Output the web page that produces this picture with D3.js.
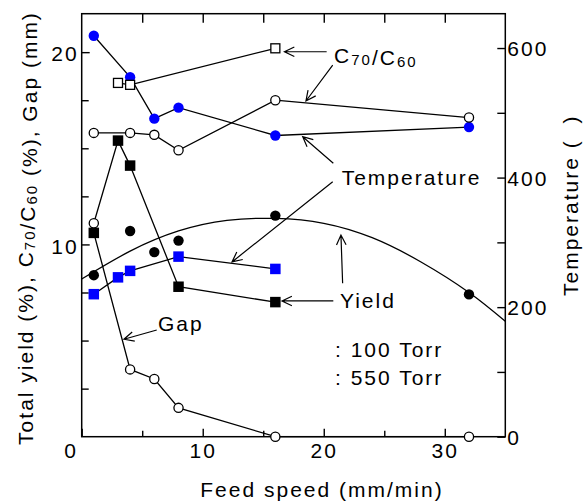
<!DOCTYPE html>
<html>
<head>
<meta charset="utf-8">
<script src="https://cdn.jsdelivr.net/npm/d3@7"></script>
<style>
body { margin: 0; background: #fff; }
svg text { font-family: "Liberation Sans", Arial, sans-serif; font-size: 21px; letter-spacing: 2px; fill: #000; }
</style>
</head>
<body>
<svg id="chart" width="585" height="501"></svg>
<script>
// feed speeds (mm/min)
const feed100 = [1, 4, 6, 8, 16, 32]
const feed550 = [1, 3, 4, 8, 16]
const feedRatio550 = [3, 4, 16]
// left axis values
const yield100 = [8.4, 10.7, 9.6, 10.2, 11.5, 7.4]
const yield550 = [10.6, 15.4, 14.1, 7.8, 7.0]
const ratio100 = [15.8, 15.8, 15.7, 14.9, 17.5, 16.6]
const ratio550 = [18.4, 18.3, 20.2]
const gap100 = [11.1, 3.5, 3.0, 1.5, 0, 0]
// right axis values (temperature)
const temp100 = [619, 555, 491, 508, 465, 478]
const temp550 = [220, 246, 256, 278, 259]
// hand drawn fit through the yield points
const fitFeed = [0, 4, 8, 12, 16, 20, 24, 28, 32, 35]
const fitYield = [8.2, 9.65, 10.7, 11.25, 11.35, 11.1, 10.35, 9.1, 7.5, 6.0]
// ticks
const xMajor = [0, 10, 20, 30]
const xMinor = [5, 15, 25]
const leftMajor = [10, 20]
const leftMinor = [2.5, 5, 7.5, 12.5, 15, 17.5]
const rightMajor = [0, 200, 400, 600]
const rightMinor = [100, 300, 500]

const svg = d3.select('#chart')
const x = d3.scaleLinear().domain([0, 35]).range([81.7, 505.3])
const yL = d3.scaleLinear().domain([0, 22]).range([436.7, 13.7])
const yR = d3.scaleLinear().domain([0, 653]).range([436.7, 13.7])

const zip = (a, b) => a.map((v, i) => [v, b[i]])

function styleAxis(g) {
    g.attr('font-size', null).attr('font-family', null)
    g.select('.domain').remove()
    g.selectAll('line').attr('stroke', '#000').attr('stroke-width', 1.4)
    return g
}

// axes (ticks point inward)
const atBottom = `translate(0,${yL(0)})`
const atTop = `translate(0,${yL(22)})`
svg.append('g').attr('transform', atBottom).call(d3.axisBottom(x).tickValues(xMinor).tickSize(-6).tickFormat('')).call(styleAxis)
const bx = svg.append('g').attr('transform', atBottom).call(d3.axisBottom(x).tickValues(xMajor).tickSize(-8).tickPadding(6)).call(styleAxis)
bx.selectAll('text').filter(d => d === 0).attr('x', -11)
svg.append('g').attr('transform', atTop).call(d3.axisTop(x).tickValues(xMinor).tickSize(-9).tickFormat('')).call(styleAxis)
svg.append('g').attr('transform', atTop).call(d3.axisTop(x).tickValues(xMajor.slice(1)).tickSize(-9).tickFormat('')).call(styleAxis)

const atLeft = `translate(${x(0)},0)`
svg.append('g').attr('transform', atLeft).call(d3.axisLeft(yL).tickValues(leftMinor).tickSize(-7).tickFormat('')).call(styleAxis)
svg.append('g').attr('transform', atLeft).call(d3.axisLeft(yL).tickValues(leftMajor).tickSize(-8).tickPadding(3)).call(styleAxis)
    .selectAll('text').attr('dy', '0.42em')

const atRight = `translate(${x(35)},0)`
svg.append('g').attr('transform', atRight).call(d3.axisRight(yR).tickValues(rightMinor).tickSize(-8).tickFormat('')).call(styleAxis)
svg.append('g').attr('transform', atRight).call(d3.axisRight(yR).tickValues(rightMajor).tickSize(-8).tickPadding(2)).call(styleAxis)
    .selectAll('text').attr('dy', '0.36em')

svg.append('rect')
    .attr('x', x(0)).attr('y', yL(22))
    .attr('width', x(35) - x(0)).attr('height', yL(0) - yL(22))
    .attr('fill', 'none').attr('stroke', '#000').attr('stroke-width', 1.5)

// lines
const lineL = d3.line().x(d => x(d[0])).y(d => yL(d[1]))
const lineR = d3.line().x(d => x(d[0])).y(d => yR(d[1]))
const fitLine = d3.line().x(d => x(d[0])).y(d => yL(d[1])).curve(d3.curveNatural)

function drawLine(gen, pts) {
    svg.append('path').attr('d', gen(pts))
        .attr('fill', 'none').attr('stroke', '#000').attr('stroke-width', 1.3)
}
drawLine(fitLine, zip(fitFeed, fitYield))
drawLine(lineR, zip(feed100, temp100))
drawLine(lineR, zip(feed550, temp550))
drawLine(lineL, zip(feed100, ratio100))
drawLine(lineL, zip(feedRatio550, ratio550))
// in the original the first points of yield (550) and gap are joined crosswise
const yieldPts = zip(feed550, yield550)
const gapPts = zip(feed100, gap100)
drawLine(lineL, [gapPts[0], ...yieldPts.slice(1)])
drawLine(lineL, [yieldPts[0], ...gapPts.slice(1)])

// markers
function circles(pts, yScale, fill, stroke) {
    svg.append('g').selectAll('circle').data(pts).join('circle')
        .attr('cx', d => x(d[0])).attr('cy', d => yScale(d[1]))
        .attr('r', stroke ? 4.6 : 5.2)
        .attr('fill', fill)
        .attr('stroke', stroke || 'none').attr('stroke-width', 1.3)
}
function squares(pts, yScale, fill, stroke) {
    const s = stroke ? 9 : 10.5
    svg.append('g').selectAll('rect').data(pts).join('rect')
        .attr('x', d => x(d[0]) - s / 2).attr('y', d => yScale(d[1]) - s / 2)
        .attr('width', s).attr('height', s)
        .attr('fill', fill)
        .attr('stroke', stroke || 'none').attr('stroke-width', 1.3)
}
circles(zip(feed100, temp100), yR, '#0000ff')
squares(zip(feed550, temp550), yR, '#0000ff')
circles(zip(feed100, ratio100), yL, '#fff', '#000')
squares(zip(feedRatio550, ratio550), yL, '#fff', '#000')
circles(zip(feed100, yield100), yL, '#000')
squares(yieldPts, yL, '#000')
circles(gapPts, yL, '#fff', '#000')

// annotations, in data units of the left axis
const arrows = [
    [20.24, 20.02, 16.75, 20.02],
    [20.74, 19.33, 18.53, 17.46],
    [20.79, 14.22, 18.26, 15.6],
    [20.74, 13.26, 12.42, 9.09],
    [20.79, 7.06, 16.55, 7.06],
    [21.56, 7.98, 21.42, 10.49],
    [6.2, 5.55, 3.49, 5.07]
]
arrows.forEach(a => {
    const x1 = x(a[0]), y1 = yL(a[1]), x2 = x(a[2]), y2 = yL(a[3])
    const ang = Math.atan2(y1 - y2, x1 - x2)
    const len = 11, spread = 0.45
    const h1 = [x2 + len * Math.cos(ang + spread), y2 + len * Math.sin(ang + spread)]
    const h2 = [x2 + len * Math.cos(ang - spread), y2 + len * Math.sin(ang - spread)]
    svg.append('path')
        .attr('d', `M${x1},${y1}L${x2},${y2}M${h1}L${x2},${y2}L${h2}`)
        .attr('fill', 'none').attr('stroke', '#000').attr('stroke-width', 1.2)
})

function label(px, py, parts) {
    const t = svg.append('text').attr('x', px).attr('y', py)
    addParts(t, parts)
    return t
}
function addParts(t, parts) {
    parts.forEach(p => {
        if (typeof p === 'string') {
            t.append('tspan').text(p)
        } else {
            t.append('tspan').text(p.sub).attr('font-size', 15).attr('dy', 2)
            t.append('tspan').attr('dy', -2).text('')
        }
    })
}
label(x(20.85), yL(19.42), ['C', { sub: '70' }, '/C', { sub: '60' }])
label(x(21.48), yL(13.09), ['Temperature'])
label(x(21.34), yL(6.71), ['Yield'])
label(x(6.3), yL(5.51), ['Gap'])
label(x(20.93), yL(4.16), [': 100 Torr'])
label(x(20.93), yL(2.69), [': 550 Torr'])

// axis titles
svg.append('text').attr('x', 322).attr('y', 497).attr('text-anchor', 'middle').text('Feed speed (mm/min)')
const lt = svg.append('text').attr('transform', 'translate(33,228) rotate(-90)').attr('text-anchor', 'middle')
addParts(lt, ['Total yield (%), C', { sub: '70' }, '/C', { sub: '60' }, ' (%), Gap (mm)'])
svg.append('text').attr('transform', 'translate(578,296) rotate(-90)').text('Temperature (\u00a0\u00a0)')
</script>
</body>
</html>
